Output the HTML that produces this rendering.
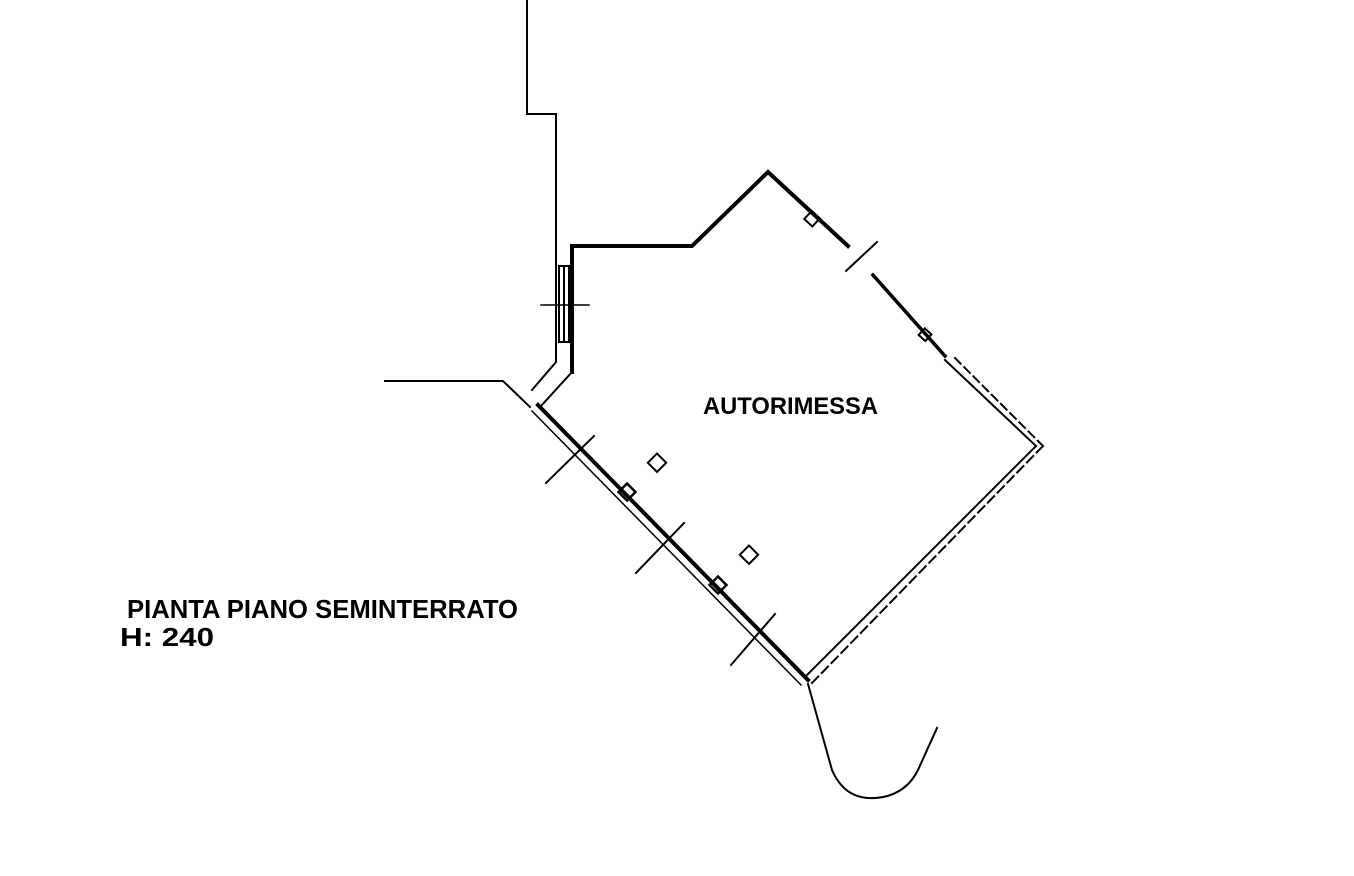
<!DOCTYPE html>
<html><head><meta charset="utf-8"><style>
html,body{margin:0;padding:0;background:#fff;width:1354px;height:876px;overflow:hidden}
svg{display:block}
text{font-family:"Liberation Sans",sans-serif;font-weight:bold;fill:#000}
</style></head><body>
<svg width="1354" height="876" viewBox="0 0 1354 876" xmlns="http://www.w3.org/2000/svg">
<g fill="none" stroke="#000" stroke-linecap="square">
<polyline points="527,0 527,114 556,114 556,362 532,390" stroke-width="2"/>
<polyline points="572,372 572,246 692,246 768,172 848,246" stroke-width="4"/>
<polyline points="572,248 572,372 541,406" stroke-width="2"/>
<rect x="559" y="266" width="10" height="76" stroke-width="2"/>
<line x1="564" y1="266" x2="564" y2="342" stroke-width="2"/>
<line x1="541" y1="305" x2="589" y2="305" stroke-width="1.5"/>
<rect x="807" y="213" width="11" height="11" transform="rotate(43 812 218)" stroke-width="2"/>
<line x1="846" y1="271" x2="877" y2="242" stroke-width="2"/>
<polyline points="873,275 945,356" stroke-width="3.5"/>
<rect x="921" y="330" width="9" height="9" transform="rotate(43 925 334)" stroke-width="2"/>
<line x1="945" y1="360" x2="1036" y2="446" stroke-width="2"/>
<line x1="955" y1="358" x2="1043" y2="446" stroke-width="2" stroke-dasharray="8,5"/>
<line x1="1036" y1="446" x2="806" y2="676" stroke-width="2"/>
<line x1="1043" y1="446" x2="812" y2="683" stroke-width="2" stroke-dasharray="9,5"/>
<line x1="538" y1="405" x2="808" y2="680" stroke-width="4"/>
<line x1="532" y1="411" x2="801" y2="685" stroke-width="1.5"/>
<line x1="546" y1="483" x2="594" y2="436" stroke-width="2"/>
<line x1="636" y1="573" x2="684" y2="523" stroke-width="2"/>
<line x1="731" y1="665" x2="775" y2="614" stroke-width="2"/>
<rect x="621" y="486" width="12" height="12" transform="rotate(45 627 492)" stroke-width="2.5"/>
<rect x="712" y="579" width="12" height="12" transform="rotate(45 718 585)" stroke-width="2.5"/>
<rect x="651" y="456" width="13" height="13" transform="rotate(45 657 462)" stroke-width="2"/>
<rect x="743" y="548" width="13" height="13" transform="rotate(45 749 554)" stroke-width="2"/>
<polyline points="385,381 503,381 530,407" stroke-width="2"/>
<path d="M808,684 L832,770 Q845,800 875,798 Q905,796 918,770 L937,728" stroke-width="2"/>
</g>
<text x="703" y="414" font-size="24" textLength="175" lengthAdjust="spacingAndGlyphs">AUTORIMESSA</text>
<text x="127" y="618" font-size="26" textLength="391" lengthAdjust="spacingAndGlyphs">PIANTA PIANO SEMINTERRATO</text>
<text x="120" y="646" font-size="26" textLength="94" lengthAdjust="spacingAndGlyphs">H: 240</text>
</svg>
</body></html>
